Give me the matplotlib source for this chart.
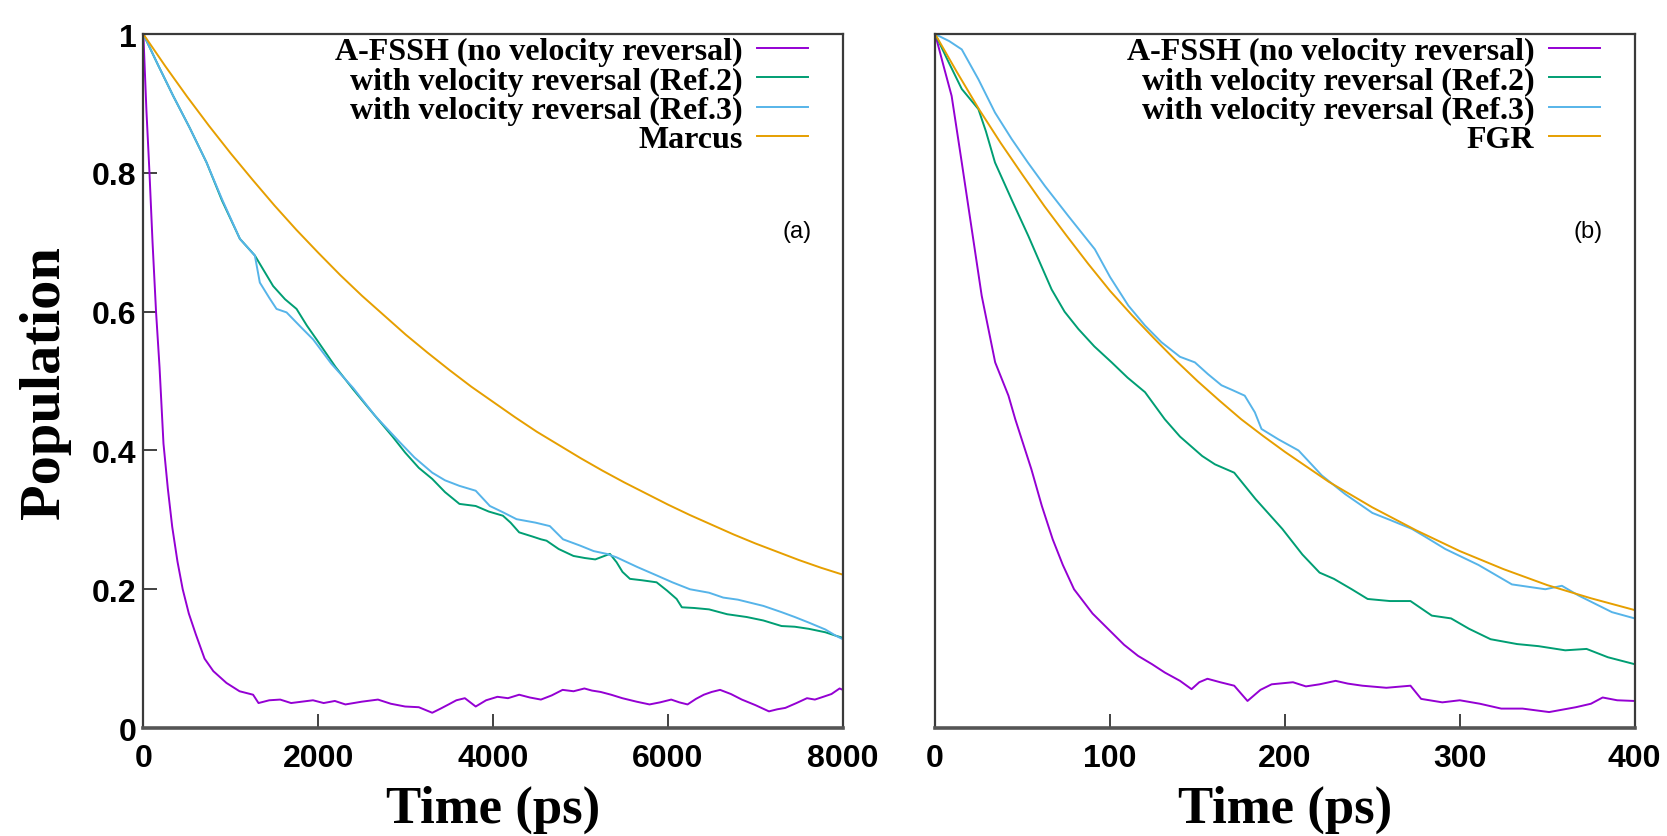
import matplotlib
matplotlib.use("Agg")
import matplotlib.pyplot as plt

# ---- panel (a) data (time in ps) ----
a_purple_t = [0, 35, 70, 105, 145, 185, 230, 280, 330, 390, 450, 520, 600, 700, 800, 950, 1100,
              1255, 1317, 1440, 1565, 1690, 1814, 1940, 2062, 2190, 2311, 2500, 2683, 2830, 2994,
              3150, 3304, 3400, 3491, 3580, 3677, 3801, 3920, 4050, 4170, 4298, 4420, 4547, 4670,
              4795, 4920, 5044, 5130, 5230, 5350, 5478, 5640, 5789, 5910, 6037, 6130, 6224, 6320,
              6410, 6500, 6596, 6720, 6845, 7000, 7155, 7250, 7342, 7470, 7590, 7680, 7776, 7870,
              7963, 8000]
a_purple = [1.0, 0.89, 0.80, 0.70, 0.60, 0.52, 0.41, 0.345, 0.29, 0.24, 0.20, 0.165, 0.135, 0.10,
            0.082, 0.065, 0.053,
            0.048, 0.036, 0.040, 0.041, 0.036, 0.038, 0.040, 0.036, 0.039, 0.034, 0.038, 0.041,
            0.035, 0.031, 0.030, 0.022, 0.028, 0.034, 0.040, 0.043, 0.031, 0.040, 0.045, 0.043,
            0.048, 0.044, 0.041, 0.047, 0.055, 0.053, 0.057, 0.054, 0.052, 0.048, 0.043, 0.038,
            0.034, 0.037, 0.041, 0.037, 0.034, 0.042, 0.048, 0.052, 0.055, 0.049, 0.041, 0.033,
            0.024, 0.027, 0.029, 0.036, 0.043, 0.041, 0.045, 0.049, 0.057, 0.055]

a_green_t = [0, 170, 341, 530, 723, 900, 1104, 1275, 1484, 1620, 1752, 1870, 1981, 2200, 2400,
             2550, 2683, 2850, 2994, 3150, 3304, 3450, 3615, 3801, 3950, 4112, 4200, 4298, 4450,
             4547, 4611, 4750, 4919, 5050, 5168, 5336, 5412, 5480, 5565, 5700, 5870, 5990, 6099,
             6159, 6300, 6470, 6677, 6900, 7091, 7299, 7450, 7610, 7800, 7920, 8000]
a_green = [1.0, 0.955, 0.911, 0.865, 0.815, 0.760, 0.705, 0.681, 0.637, 0.618, 0.604, 0.580,
           0.560, 0.520, 0.488, 0.465, 0.445, 0.420, 0.397, 0.375, 0.359, 0.340, 0.323, 0.320,
           0.312, 0.306, 0.296, 0.282, 0.276, 0.272, 0.270, 0.258, 0.248, 0.245, 0.243, 0.251,
           0.239, 0.225, 0.215, 0.213, 0.210, 0.198, 0.186, 0.174, 0.173, 0.171, 0.164, 0.160,
           0.155, 0.147, 0.146, 0.143, 0.138, 0.133, 0.130]

a_blue_t = [0, 170, 341, 530, 723, 900, 1104, 1275, 1332, 1440, 1523, 1638, 1800, 1942, 2150,
            2400, 2650, 2932, 3100, 3304, 3450, 3615, 3801, 3963, 4112, 4268, 4485, 4649, 4800,
            4993, 5150, 5298, 5412, 5650, 5870, 6050, 6251, 6470, 6632, 6800, 7091, 7299, 7450,
            7610, 7800, 7920, 8000]
a_blue = [1.0, 0.955, 0.911, 0.865, 0.815, 0.762, 0.705, 0.681, 0.642, 0.620, 0.604, 0.599,
          0.578, 0.560, 0.525, 0.490, 0.450, 0.412, 0.390, 0.368, 0.357, 0.349, 0.342, 0.320,
          0.311, 0.301, 0.296, 0.291, 0.272, 0.263, 0.255, 0.251, 0.246, 0.232, 0.220, 0.210,
          0.200, 0.195, 0.188, 0.185, 0.176, 0.167, 0.160, 0.152, 0.142, 0.133, 0.128]

a_marcus_t = [0, 250, 500, 750, 1000, 1250, 1500, 1750, 2000, 2250, 2500, 2750, 3000, 3250, 3500,
              3750, 4000, 4250, 4500, 4750, 5000, 5250, 5500, 5750, 6000, 6250, 6500, 6750, 7000,
              7250, 7500, 7750, 8000]
a_marcus = [1.000, 0.954, 0.910, 0.868, 0.828, 0.790, 0.753, 0.718, 0.685, 0.653, 0.623, 0.595,
            0.567, 0.541, 0.516, 0.492, 0.470, 0.448, 0.427, 0.408, 0.389, 0.371, 0.354, 0.338,
            0.322, 0.307, 0.293, 0.279, 0.266, 0.254, 0.242, 0.231, 0.221]

# ---- panel (b) data ----
b_purple_t = [0, 4.7, 9.4, 15.2, 20.9, 26.6, 34.3, 41.9, 45.8, 55, 61, 67.2, 73, 79.4, 90, 100.8,
              108, 116, 124, 131.3, 140, 146.6, 151, 155.7, 163, 171, 178.6, 186, 192.4, 204.6,
              212, 219.8, 229, 236, 244.3, 258, 271.8, 277.9, 290, 300, 311.5, 323.7, 335.9,
              351.1, 366.4, 375, 381.7, 390, 400]
b_purple = [1.0, 0.955, 0.911, 0.815, 0.719, 0.623, 0.527, 0.479, 0.445, 0.373, 0.320, 0.272,
            0.235, 0.200, 0.165, 0.138, 0.120, 0.104, 0.092, 0.080, 0.068, 0.056, 0.066, 0.071,
            0.066, 0.061, 0.039, 0.055, 0.063, 0.066, 0.060, 0.063, 0.068, 0.064, 0.061, 0.058,
            0.061, 0.042, 0.037, 0.040, 0.035, 0.028, 0.028, 0.023, 0.030, 0.035, 0.044, 0.040,
            0.039]

b_green_t = [0, 7.8, 15.2, 24.7, 29, 34.2, 44, 53.3, 60, 66.6, 74, 81.9, 91, 100.9, 110, 120,
             131.3, 140, 152.7, 160, 171, 183.2, 198.5, 210, 219.8, 228, 238.2, 247.3, 260, 271.8,
             284, 295, 305.3, 317.6, 332.8, 345, 360.3, 372.5, 384.7, 400]
b_green = [1.0, 0.959, 0.921, 0.892, 0.860, 0.815, 0.760, 0.709, 0.670, 0.632, 0.600, 0.575,
           0.550, 0.527, 0.505, 0.484, 0.445, 0.420, 0.392, 0.380, 0.368, 0.330, 0.287, 0.250,
           0.224, 0.215, 0.200, 0.186, 0.183, 0.183, 0.162, 0.158, 0.143, 0.128, 0.121, 0.118,
           0.112, 0.114, 0.102, 0.092]

b_blue_t = [0, 8, 15.2, 24.7, 34.2, 43.7, 53, 62.8, 76.1, 91.3, 100, 110.4, 120, 129.4, 140,
            148.5, 156, 163.7, 170, 177, 182.8, 186.6, 196.3, 207.8, 221.1, 234.5, 250, 260,
            272.6, 280, 291.7, 310.7, 329.8, 348.9, 358.4, 367.9, 387, 400]
b_blue = [1.0, 0.990, 0.978, 0.935, 0.887, 0.849, 0.815, 0.781, 0.738, 0.690, 0.650, 0.609,
          0.580, 0.556, 0.535, 0.527, 0.510, 0.494, 0.487, 0.479, 0.455, 0.431, 0.416, 0.400,
          0.364, 0.337, 0.310, 0.300, 0.287, 0.276, 0.258, 0.235, 0.207, 0.200, 0.205, 0.191,
          0.167, 0.158]

b_fgr_t = [0, 12.5, 25, 37.5, 50, 62.5, 75, 87.5, 100, 112.5, 125, 137.5, 150, 162.5, 175, 187.5,
           200, 225, 250, 275, 300, 325, 350, 375, 400]
b_fgr = [1.000, 0.945, 0.892, 0.843, 0.797, 0.752, 0.710, 0.669, 0.630, 0.595, 0.562, 0.530,
         0.500, 0.472, 0.445, 0.421, 0.398, 0.355, 0.318, 0.285, 0.255, 0.229, 0.206, 0.187,
         0.170]

labels_a = ["A-FSSH (no velocity reversal)", "with velocity reversal (Ref.2)",
            "with velocity reversal (Ref.3)", "Marcus"]
labels_b = ["A-FSSH (no velocity reversal)", "with velocity reversal (Ref.2)",
            "with velocity reversal (Ref.3)", "FGR"]
colors = ["#9400d3", "#009e73", "#56b4e9", "#e69f00"]

yticks = [0, 0.2, 0.4, 0.6, 0.8, 1]
ytick_labels = ["0", "0.2", "0.4", "0.6", "0.8", "1"]

plt.rcParams["font.family"] = ["Liberation Sans", "DejaVu Sans"]

fig = plt.figure(figsize=(16.67, 8.37), dpi=100)
ax1 = fig.add_axes([0.086, 0.129, 0.4196, 0.829])
ax2 = fig.add_axes([0.561, 0.129, 0.4196, 0.829])

serif = ["Liberation Serif", "DejaVu Serif"]


def style(ax, xmax, xticks, tag, labels, show_y):
    ax.set_xlim(0, xmax)
    ax.set_ylim(0, 1)
    ax.set_xticks(xticks)
    ax.set_xticklabels([str(v) for v in xticks])
    ax.tick_params(axis="x", direction="in", length=10, width=1.3, pad=11,
                   labelsize=23, colors="#333333", labelcolor="black", top=False)
    if show_y:
        ax.set_yticks(yticks)
        ax.set_yticklabels(ytick_labels)
        ax.tick_params(axis="y", direction="in", length=10, width=1.3, pad=5,
                       labelsize=23, colors="#333333", labelcolor="black", right=False)
        ax.set_ylabel("Population", fontsize=42, fontweight="bold", family=serif)
        ax.yaxis.set_label_coords(-0.103, 0.5)
    else:
        ax.set_yticks([])
    for lab in ax.get_xticklabels() + ax.get_yticklabels():
        lab.set_fontweight("bold")
    for s in ax.spines.values():
        s.set_color("#3a3a3a")
        s.set_linewidth(1.6)
    ax.spines["bottom"].set_linewidth(2.6)
    ax.spines["bottom"].set_color("#555555")
    ax.set_xlabel("Time (ps)", fontsize=38, fontweight="bold", family=serif, labelpad=8)
    ax.text(0.934, 0.716, tag, transform=ax.transAxes, fontsize=17, ha="center", va="center")
    leg = ax.legend(labels, loc="upper right", bbox_to_anchor=(0.950, 0.996),
                    frameon=False, markerfirst=False, handlelength=1.6, handletextpad=0.45,
                    labelspacing=0.0, borderpad=0, borderaxespad=0,
                    prop={"family": serif, "weight": "bold", "size": 23})
    return leg


lw = 1.4
ax1.plot(a_purple_t, a_purple, color=colors[0], lw=lw)
ax1.plot(a_green_t, a_green, color=colors[1], lw=lw)
ax1.plot(a_blue_t, a_blue, color=colors[2], lw=lw)
ax1.plot(a_marcus_t, a_marcus, color=colors[3], lw=lw)
style(ax1, 8000, [0, 2000, 4000, 6000, 8000], "(a)", labels_a, True)

ax2.plot(b_purple_t, b_purple, color=colors[0], lw=lw)
ax2.plot(b_green_t, b_green, color=colors[1], lw=lw)
ax2.plot(b_blue_t, b_blue, color=colors[2], lw=lw)
ax2.plot(b_fgr_t, b_fgr, color=colors[3], lw=lw)
style(ax2, 400, [0, 100, 200, 300, 400], "(b)", labels_b, False)

fig.savefig("out.png", dpi=100)
